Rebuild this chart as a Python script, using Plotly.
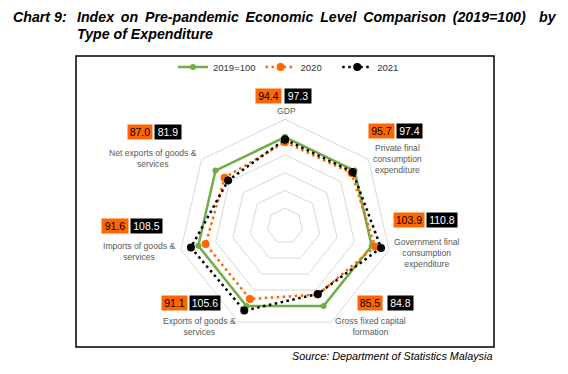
import plotly.graph_objects as go

W, H = 568, 374

categories = ["GDP", "Private final consumption expenditure",
              "Government final consumption expenditure",
              "Gross fixed capital formation", "Exports of goods & services",
              "Imports of goods & services", "Net exports of goods & services"]
cat_labels = ["GDP", "Private final<br>consumption<br>expenditure",
              "Government final<br>consumption<br>expenditure",
              "Gross fixed capital<br>formation", "Exports of goods &<br>services",
              "Imports of goods &<br>services", "Net exports of goods &<br>services"]
series_names = ["2019=100", "2020", "2021"]
base_2019 = [100, 100, 100, 100, 100, 100, 100]
val_2020 = [94.4, 95.7, 103.9, 85.5, 91.1, 91.6, 87.0]
val_2021 = [97.3, 97.4, 110.8, 84.8, 105.6, 108.5, 81.9]

def closed(v):
    return list(v) + [v[0]]

def px(x, y):
    return x / W, 1 - y / H

fig = go.Figure()
fig.add_trace(go.Scatterpolar(
    r=closed(base_2019), theta=closed(categories), name=series_names[0],
    mode="lines+markers", line=dict(color="#70AD47", width=2.5),
    marker=dict(color="#70AD47", size=6)))
fig.add_trace(go.Scatterpolar(
    r=closed(val_2020), theta=closed(categories), name=series_names[1] + "&nbsp;" * 4,
    mode="lines+markers", line=dict(color="#FF6600", width=2.5, dash="2.5px,3.5px"),
    marker=dict(color="#FF6600", size=8)))
fig.add_trace(go.Scatterpolar(
    r=closed(val_2021), theta=closed(categories), name=series_names[2],
    mode="lines+markers", line=dict(color="#000000", width=2.5, dash="2.5px,3.5px"),
    marker=dict(color="#000000", size=8)))

cx, cy, R = 285, 226, 106.7
fig.update_layout(
    width=W, height=H, margin=dict(l=0, r=0, t=0, b=0),
    paper_bgcolor="white", plot_bgcolor="white",
    font=dict(family="Arial, Liberation Sans, sans-serif"),
    polar=dict(
        domain=dict(x=[(cx - R) / W, (cx + R) / W], y=[1 - (cy + R) / H, 1 - (cy - R) / H]),
        gridshape="linear", bgcolor="white",
        radialaxis=dict(range=[0, 120], dtick=20, showticklabels=False, ticks="",
                        showline=False, gridcolor="#d9d9d9", gridwidth=1),
        angularaxis=dict(direction="clockwise", rotation=90, showticklabels=False,
                         ticks="", showgrid=False, showline=True,
                         linecolor="#d9d9d9", linewidth=1),
    ),
    legend=dict(orientation="h", x=173 / W, xanchor="left", y=1 - 67 / H, yanchor="middle",
                font=dict(size=9.5, color="#333333"), bgcolor="rgba(0,0,0,0)",
                itemwidth=30, tracegroupgap=0),
    showlegend=True,
)

# frame
fig.add_shape(type="rect", xref="paper", yref="paper",
              x0=76 / W, x1=494 / W, y0=1 - 347 / H, y1=1 - 56 / H,
              line=dict(color="black", width=1.5))

# title
tfont = dict(family="Arial, Liberation Sans, sans-serif", size=14.2, color="black")
gap = " &#8201;"
line1 = gap.join(["Index", "on", "Pre-pandemic", "Economic", "Level", "Comparison", "(2019=100)"])
fig.add_annotation(text="<b><i>Chart 9:</i></b>", x=11 / W, y=1 - 17 / H, xref="paper", yref="paper",
                   xanchor="left", yanchor="middle", showarrow=False, font=tfont)
fig.add_annotation(text="<b><i>" + line1 + "</i></b>",
                   x=75 / W, y=1 - 17 / H, xref="paper", yref="paper",
                   xanchor="left", yanchor="middle", showarrow=False, font=tfont)
fig.add_annotation(text="<b><i>by</i></b>",
                   x=559 / W, y=1 - 17 / H, xref="paper", yref="paper",
                   xanchor="right", yanchor="middle", showarrow=False, font=tfont)
fig.add_annotation(text="<b><i>Type of Expenditure</i></b>", x=75 / W, y=1 - 34 / H, xref="paper", yref="paper",
                   xanchor="left", yanchor="middle", showarrow=False, font=tfont)

# source
fig.add_annotation(text="<i>Source: Department of Statistics Malaysia</i>", x=494 / W, y=1 - 356 / H,
                   xref="paper", yref="paper", xanchor="right", yanchor="middle", showarrow=False,
                   font=dict(size=10.8, color="black"))

# category labels (x center, y of first line)
label_pos = [(286, 109), (397, 146), (427, 240), (370, 319), (199, 319), (139, 244), (153, 151)]
for lab, (x, y) in zip(cat_labels, label_pos):
    xx, yy = px(x, y - 5)
    fig.add_annotation(text=lab, x=xx, y=yy, xref="paper", yref="paper", xanchor="center",
                       yanchor="top", showarrow=False, align="center",
                       font=dict(size=8.6, color="#595959"))

# value boxes: (orange center, orange width, black center, black width, y)
box_pos = [(268.5, 25, 298, 26, 96), (381.5, 25, 409.5, 25, 131), (409, 30, 442, 30, 220),
           (370, 24, 400, 25, 302.5), (174.5, 25, 205, 30, 303), (115, 26, 146.5, 31, 226),
           (140, 24, 168, 26, 132)]
for v20, v21, (oc, ow, bc, bw, y) in zip(val_2020, val_2021, box_pos):
    xx, yy = px(oc, y)
    fig.add_annotation(text=f"{v20:.1f}", x=xx, y=yy, xref="paper", yref="paper", xanchor="center",
                       yanchor="middle", showarrow=False, bgcolor="#FF6600", width=ow, height=14,
                       borderpad=0, font=dict(size=10.5, color="black"))
    xx, yy = px(bc, y)
    fig.add_annotation(text=f"{v21:.1f}", x=xx, y=yy, xref="paper", yref="paper", xanchor="center",
                       yanchor="middle", showarrow=False, bgcolor="black", width=bw, height=14,
                       borderpad=0, font=dict(size=10.5, color="white"))

fig.write_html("out.html", config={"displayModeBar": False},
               post_script="document.body.style.margin='0';")
